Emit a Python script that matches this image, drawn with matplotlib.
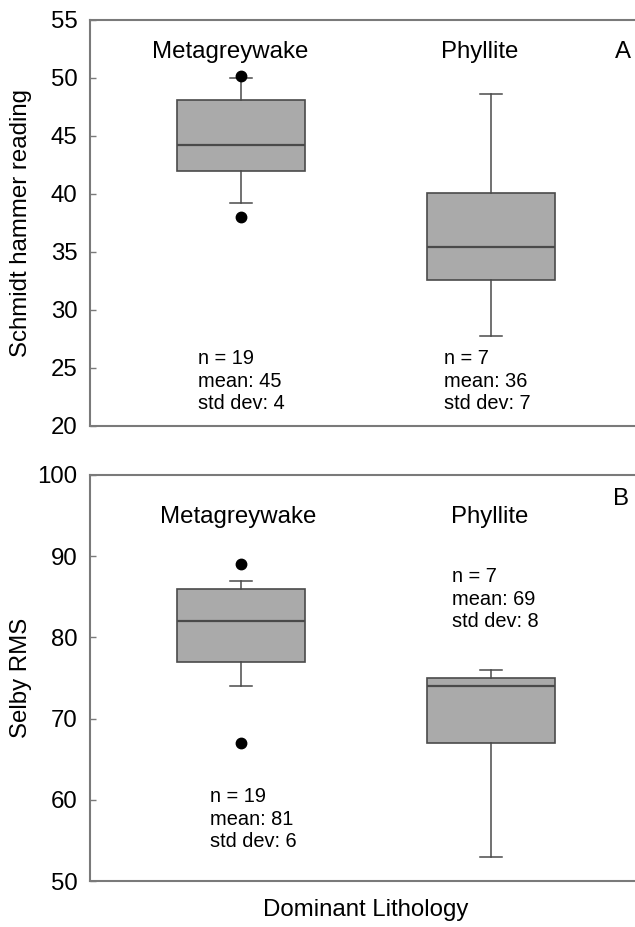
import matplotlib
matplotlib.use("Agg")
import matplotlib.pyplot as plt

plt.rcParams['font.family'] = ['Liberation Sans', 'DejaVu Sans']

categories = ["Metagreywake", "Phyllite"]

# Panel A: Schmidt hammer reading
a_whislo = [39.2, 27.8]
a_q1 = [42.0, 32.6]
a_med = [44.2, 35.4]
a_q3 = [48.1, 40.1]
a_whishi = [50.0, 48.6]
a_fliers = [[50.2, 38.0], []]
a_stats = ["n = 19\nmean: 45\nstd dev: 4", "n = 7\nmean: 36\nstd dev: 7"]

# Panel B: Selby RMS
b_whislo = [74.0, 53.0]
b_q1 = [77.0, 67.0]
b_med = [82.0, 74.0]
b_q3 = [86.0, 75.0]
b_whishi = [87.0, 76.0]
b_fliers = [[89.0, 67.0], []]
b_stats = ["n = 19\nmean: 81\nstd dev: 6", "n = 7\nmean: 69\nstd dev: 8"]

W, H = 635, 927
fig = plt.figure(figsize=(W / 100, H / 100), dpi=100)

spine_col = "#7a7a7a"
line_col = "#4a4a4a"
big = 17.3
small = 14.4


def make_stats(lo, q1, med, q3, hi, fl):
    return [dict(whislo=lo[i], q1=q1[i], med=med[i], q3=q3[i], whishi=hi[i],
                 fliers=fl[i], label=categories[i]) for i in range(len(categories))]


def draw_panel(ax, stats, ylim, yticks, ylabel):
    ax.bxp(stats, positions=[1, 2], widths=0.512, patch_artist=True,
           capwidths=0.088,
           boxprops=dict(facecolor="#aaaaaa", edgecolor=line_col, linewidth=1.2),
           medianprops=dict(color=line_col, linewidth=1.6),
           whiskerprops=dict(color=line_col, linewidth=1.1),
           capprops=dict(color=line_col, linewidth=1.1),
           flierprops=dict(marker="o", markerfacecolor="black",
                           markeredgecolor="black", markersize=7.5))
    ax.set_xlim(0.396, 2.604)
    ax.set_ylim(*ylim)
    ax.set_yticks(yticks)
    ax.set_xticks([])
    ax.tick_params(axis="y", direction="in", length=4, width=1,
                   color=spine_col, labelsize=big, pad=9)
    for s in ax.spines.values():
        s.set_color(spine_col)
        s.set_linewidth(1.5)
    ax.spines["right"].set_visible(False)
    ax.set_ylabel(ylabel, fontsize=big)
    ax.yaxis.set_label_coords(-0.105, 0.5)


# Panel A
axA = fig.add_axes([90 / W, 1 - 426 / H, 552 / W, 406 / H])
draw_panel(axA, make_stats(a_whislo, a_q1, a_med, a_q3, a_whishi, a_fliers),
           (20, 55), range(20, 56, 5), "Schmidt hammer reading")
for x, name in zip([0.956, 1.956], categories):
    axA.text(x, 52.24, name, ha="center", va="center", fontsize=big)
axA.text(2.496, 52.24, "A", ha="left", va="center", fontsize=big)
for x, s in zip([0.828, 1.812], a_stats):
    axA.text(x, 26.65, s, ha="left", va="top", fontsize=small, linespacing=1.25)

# Panel B
axB = fig.add_axes([90 / W, 1 - 881 / H, 552 / W, 406 / H])
draw_panel(axB, make_stats(b_whislo, b_q1, b_med, b_q3, b_whishi, b_fliers),
           (50, 100), range(50, 101, 10), "Selby RMS")
for x, name in zip([0.988, 1.996], categories):
    axB.text(x, 94.8, name, ha="center", va="center", fontsize=big)
axB.text(2.488, 97.0, "B", ha="left", va="center", fontsize=big)
for x, y, s in zip([0.876, 1.844], [61.6, 88.7], b_stats):
    axB.text(x, y, s, ha="left", va="top", fontsize=small, linespacing=1.25)

fig.text(366 / W, 1 - 910 / H, "Dominant Lithology", ha="center", va="center",
         fontsize=big)

fig.savefig("out.png", dpi=100)
